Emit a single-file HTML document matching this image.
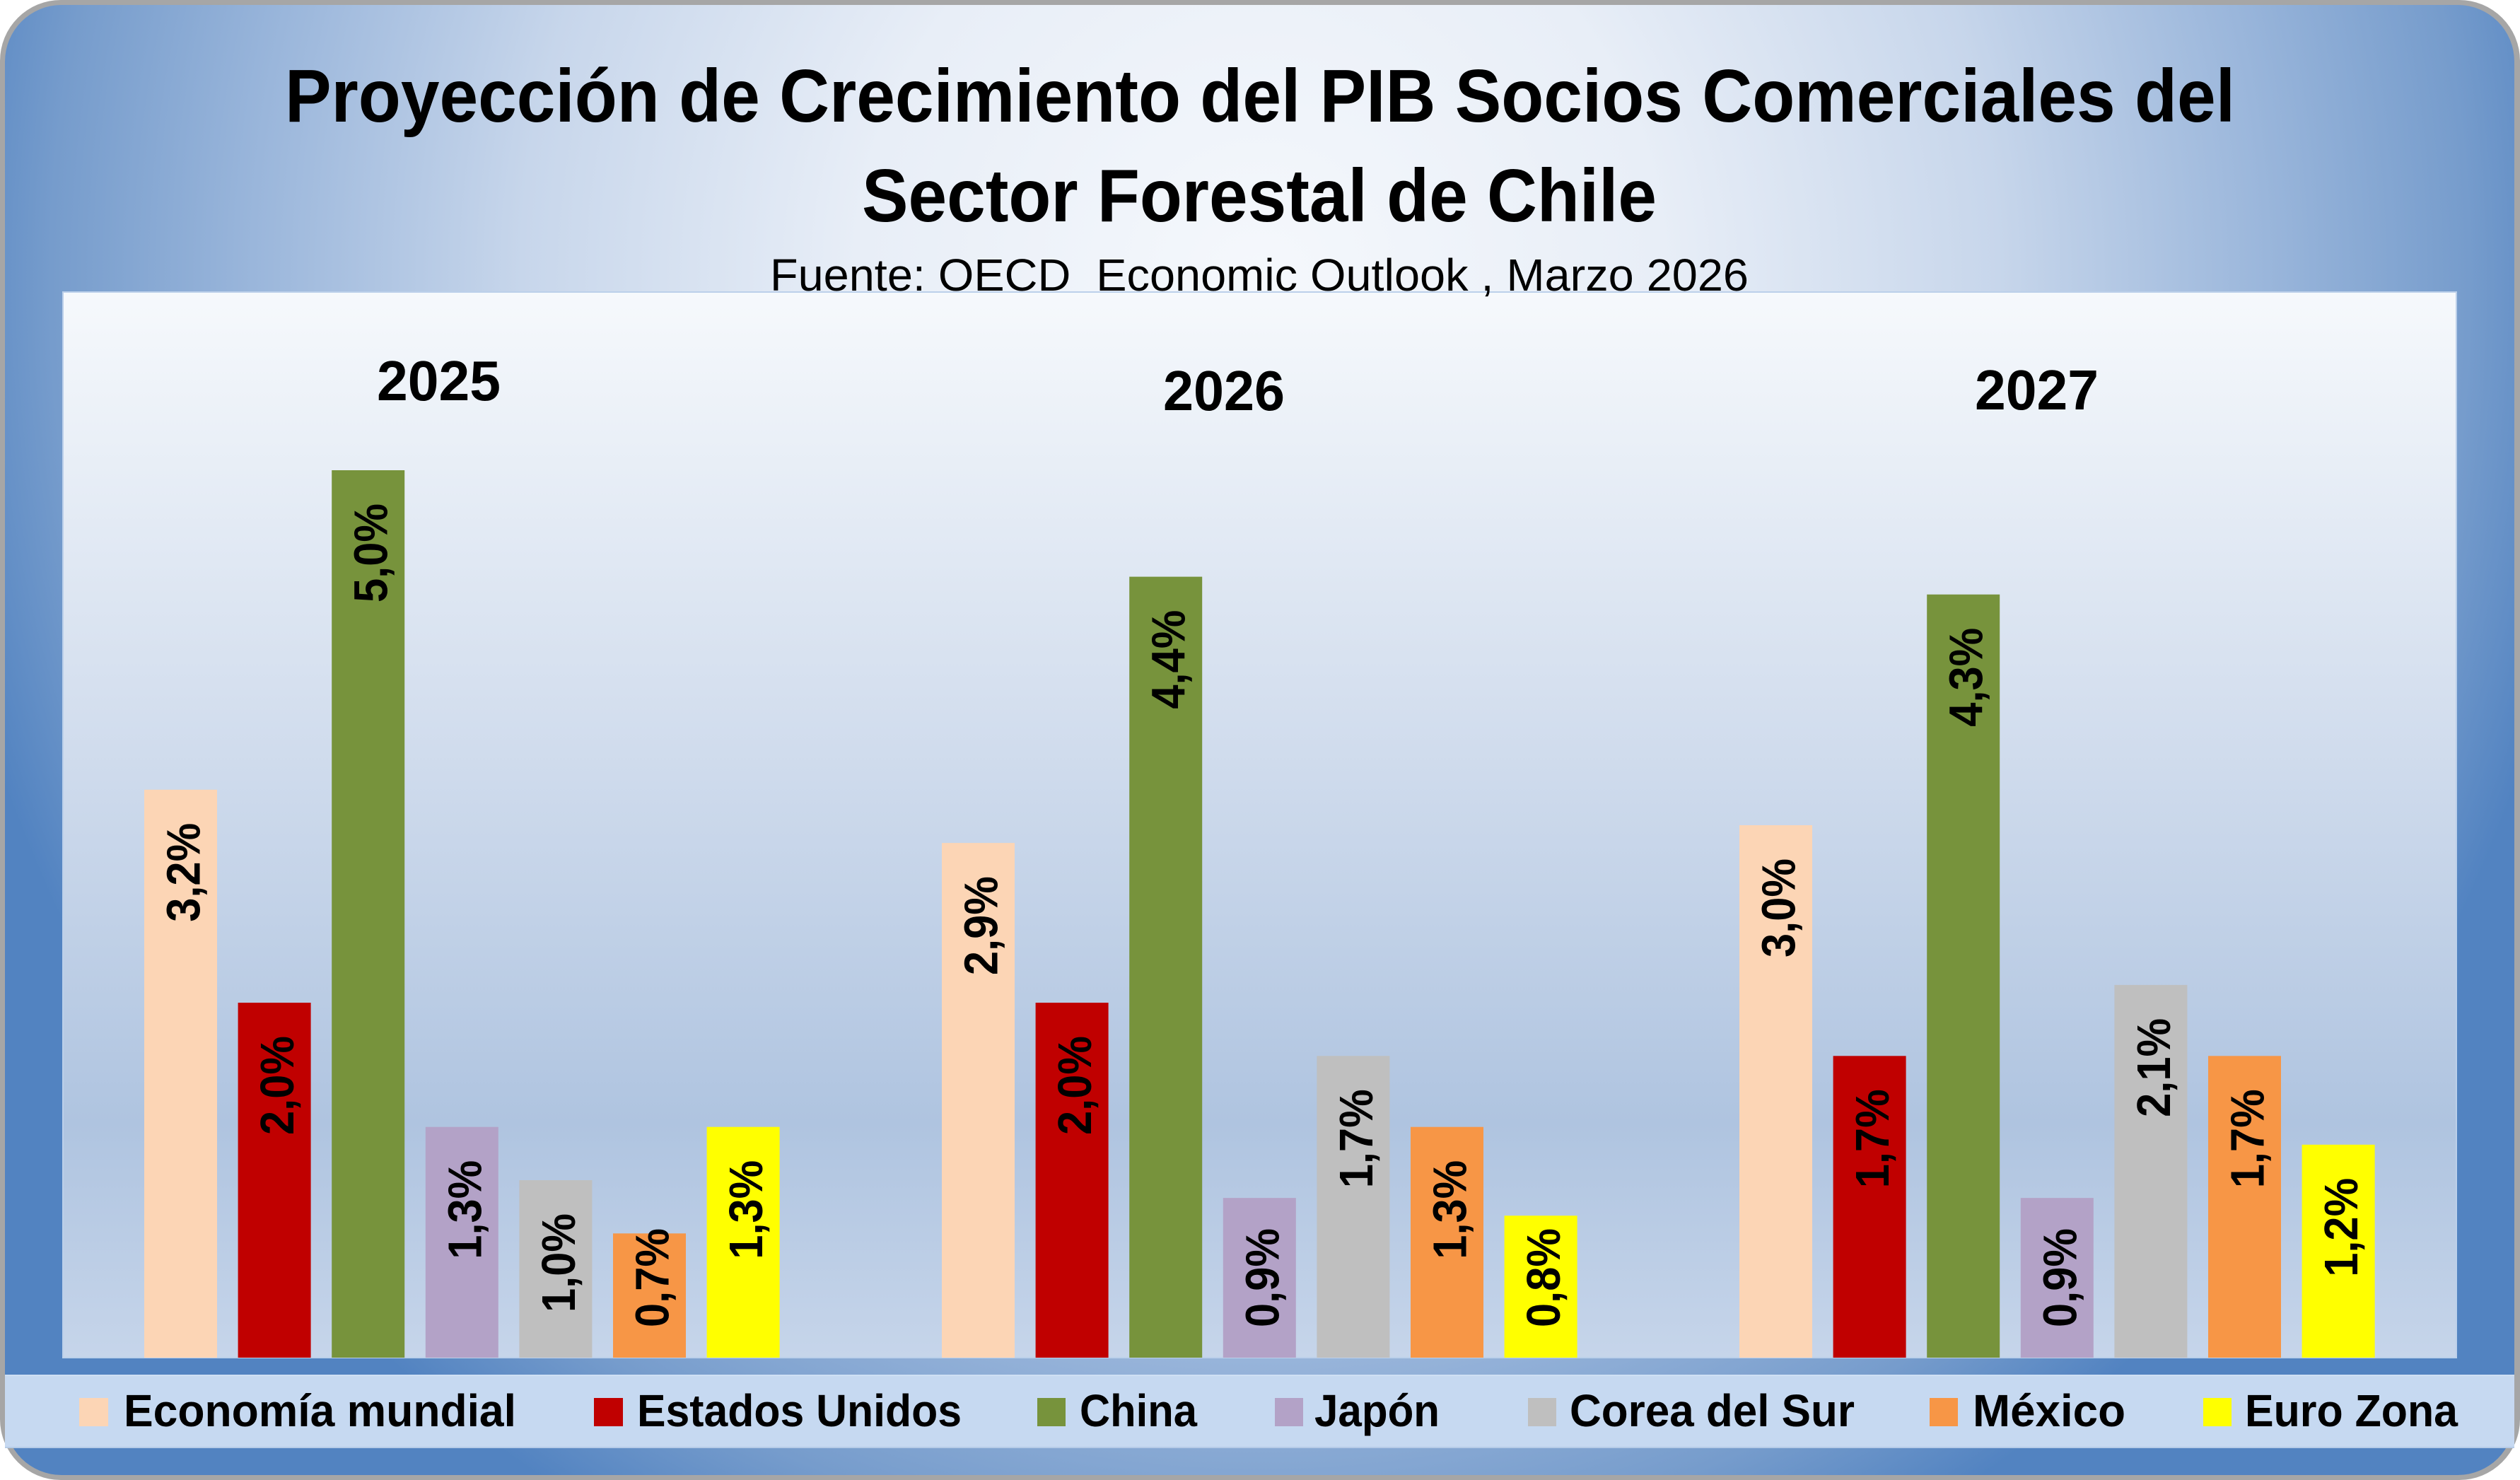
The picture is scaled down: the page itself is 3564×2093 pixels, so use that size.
<!DOCTYPE html>
<html>
<head>
<meta charset="utf-8">
<style>
html,body{margin:0;padding:0;background:#ffffff;}
svg{display:block;}
</style>
</head>
<body>
<svg width="3564" height="2093" viewBox="0 0 3564 2093" xmlns="http://www.w3.org/2000/svg" font-family="'Liberation Sans', Arial, sans-serif">
<defs>
  <radialGradient id="fr" gradientUnits="userSpaceOnUse" cx="0" cy="0" r="1" gradientTransform="translate(1782,400) scale(1900,2000)">
    <stop offset="0" stop-color="#f5f8fc"/>
    <stop offset="0.3" stop-color="#e8eef7"/>
    <stop offset="0.55" stop-color="#c7d6eb"/>
    <stop offset="0.75" stop-color="#9ab6db"/>
    <stop offset="0.9" stop-color="#769ccc"/>
    <stop offset="1" stop-color="#5283c1"/>
  </radialGradient>
  <linearGradient id="pl" x1="0" y1="0" x2="0" y2="1">
    <stop offset="0" stop-color="#f6f9fc"/>
    <stop offset="0.4" stop-color="#d3deee"/>
    <stop offset="0.78" stop-color="#afc4e0"/>
    <stop offset="1" stop-color="#c6d5ea"/>
  </linearGradient>
</defs>

<!-- frame -->
<rect x="0" y="0" width="3564" height="2093" rx="86" ry="86" fill="#a6a6a6"/>
<rect x="7" y="7" width="3549" height="2079" rx="80" ry="80" fill="url(#fr)"/>

<!-- titles -->
<text x="403" y="172" font-size="106" font-weight="bold" fill="#000" textLength="2758" lengthAdjust="spacingAndGlyphs">Proyección de Crecimiento del PIB Socios Comerciales del</text>
<text x="1219" y="313" font-size="106" font-weight="bold" fill="#000" textLength="1124" lengthAdjust="spacingAndGlyphs">Sector Forestal de Chile</text>

<!-- plot area -->
<rect x="89" y="413" width="3385" height="1507" fill="url(#pl)" stroke="#bcd0ea" stroke-width="2"/>

<text x="1089" y="411" font-size="64" fill="#000" textLength="1384" lengthAdjust="spacingAndGlyphs">Fuente: OECD &#160;Economic Outlook , Marzo 2026</text>

<!-- year labels -->
<text x="533" y="566" font-size="80" font-weight="bold" fill="#000" textLength="175" lengthAdjust="spacingAndGlyphs">2025</text>
<text x="1645" y="580" font-size="80" font-weight="bold" fill="#000" textLength="172" lengthAdjust="spacingAndGlyphs">2026</text>
<text x="2793" y="579" font-size="80" font-weight="bold" fill="#000" textLength="175" lengthAdjust="spacingAndGlyphs">2027</text>

<!-- bars 2025 -->
<rect x="204" y="1116.8" width="103" height="803.2" fill="#fcd5b5"/>
<rect x="336.6" y="1418" width="103" height="502" fill="#c00000"/>
<rect x="469.2" y="665" width="103" height="1255" fill="#77933c"/>
<rect x="601.8" y="1593.7" width="103" height="326.3" fill="#b3a2c7"/>
<rect x="734.4" y="1669" width="103" height="251" fill="#bfbfbf"/>
<rect x="867" y="1744.3" width="103" height="175.7" fill="#f79646"/>
<rect x="999.6" y="1593.7" width="103" height="326.3" fill="#ffff00"/>

<!-- bars 2026 -->
<rect x="1332" y="1192.1" width="103" height="727.9" fill="#fcd5b5"/>
<rect x="1464.6" y="1418" width="103" height="502" fill="#c00000"/>
<rect x="1597.2" y="815.6" width="103" height="1104.4" fill="#77933c"/>
<rect x="1729.8" y="1694.1" width="103" height="225.9" fill="#b3a2c7"/>
<rect x="1862.4" y="1493.3" width="103" height="426.7" fill="#bfbfbf"/>
<rect x="1995" y="1593.7" width="103" height="326.3" fill="#f79646"/>
<rect x="2127.6" y="1719.2" width="103" height="200.8" fill="#ffff00"/>

<!-- bars 2027 -->
<rect x="2460" y="1167" width="103" height="753" fill="#fcd5b5"/>
<rect x="2592.6" y="1493.3" width="103" height="426.7" fill="#c00000"/>
<rect x="2725.2" y="840.7" width="103" height="1079.3" fill="#77933c"/>
<rect x="2857.8" y="1694.1" width="103" height="225.9" fill="#b3a2c7"/>
<rect x="2990.4" y="1392.9" width="103" height="527.1" fill="#bfbfbf"/>
<rect x="3123" y="1493.3" width="103" height="426.7" fill="#f79646"/>
<rect x="3255.6" y="1618.8" width="103" height="301.2" fill="#ffff00"/>

<!-- data labels -->
<g font-size="67" font-weight="bold" fill="#000">
<text transform="translate(282.5,1303.8) rotate(-90)" textLength="140" lengthAdjust="spacingAndGlyphs">3,2%</text>
<text transform="translate(415.1,1605) rotate(-90)" textLength="140" lengthAdjust="spacingAndGlyphs">2,0%</text>
<text transform="translate(547.7,852) rotate(-90)" textLength="140" lengthAdjust="spacingAndGlyphs">5,0%</text>
<text transform="translate(680.3,1780.7) rotate(-90)" textLength="140" lengthAdjust="spacingAndGlyphs">1,3%</text>
<text transform="translate(812.9,1856) rotate(-90)" textLength="140" lengthAdjust="spacingAndGlyphs">1,0%</text>
<text transform="translate(945.5,1877) rotate(-90)" textLength="140" lengthAdjust="spacingAndGlyphs">0,7%</text>
<text transform="translate(1078.1,1780.7) rotate(-90)" textLength="140" lengthAdjust="spacingAndGlyphs">1,3%</text>

<text transform="translate(1410.5,1379.1) rotate(-90)" textLength="140" lengthAdjust="spacingAndGlyphs">2,9%</text>
<text transform="translate(1543.1,1605) rotate(-90)" textLength="140" lengthAdjust="spacingAndGlyphs">2,0%</text>
<text transform="translate(1675.7,1002.6) rotate(-90)" textLength="140" lengthAdjust="spacingAndGlyphs">4,4%</text>
<text transform="translate(1808.3,1877) rotate(-90)" textLength="140" lengthAdjust="spacingAndGlyphs">0,9%</text>
<text transform="translate(1940.9,1680.3) rotate(-90)" textLength="140" lengthAdjust="spacingAndGlyphs">1,7%</text>
<text transform="translate(2073.5,1780.7) rotate(-90)" textLength="140" lengthAdjust="spacingAndGlyphs">1,3%</text>
<text transform="translate(2206.1,1877) rotate(-90)" textLength="140" lengthAdjust="spacingAndGlyphs">0,8%</text>

<text transform="translate(2538.5,1354) rotate(-90)" textLength="140" lengthAdjust="spacingAndGlyphs">3,0%</text>
<text transform="translate(2671.1,1680.3) rotate(-90)" textLength="140" lengthAdjust="spacingAndGlyphs">1,7%</text>
<text transform="translate(2803.7,1027.7) rotate(-90)" textLength="140" lengthAdjust="spacingAndGlyphs">4,3%</text>
<text transform="translate(2936.3,1877) rotate(-90)" textLength="140" lengthAdjust="spacingAndGlyphs">0,9%</text>
<text transform="translate(3068.9,1579.9) rotate(-90)" textLength="140" lengthAdjust="spacingAndGlyphs">2,1%</text>
<text transform="translate(3201.5,1680.3) rotate(-90)" textLength="140" lengthAdjust="spacingAndGlyphs">1,7%</text>
<text transform="translate(3334.1,1805.8) rotate(-90)" textLength="140" lengthAdjust="spacingAndGlyphs">1,2%</text>
</g>

<!-- legend band -->
<rect x="7" y="1945" width="3549" height="102" fill="#c6d9f1"/>
<line x1="7" y1="1945" x2="3556" y2="1945" stroke="#cfe0f4" stroke-width="2"/>
<line x1="7" y1="2047" x2="3556" y2="2047" stroke="#b6cbe7" stroke-width="2"/>

<!-- legend items -->
<rect x="112" y="1977" width="41" height="40" fill="#fcd5b5"/>
<rect x="840" y="1977" width="41" height="40" fill="#c00000"/>
<rect x="1467" y="1977" width="40" height="40" fill="#77933c"/>
<rect x="1803" y="1977" width="40" height="40" fill="#b3a2c7"/>
<rect x="2161" y="1977" width="40" height="40" fill="#bfbfbf"/>
<rect x="2729" y="1977" width="40" height="40" fill="#f79646"/>
<rect x="3116" y="1977" width="40" height="40" fill="#ffff00"/>
<g font-size="64" font-weight="bold" fill="#000">
<text x="175" y="2017" textLength="555" lengthAdjust="spacingAndGlyphs">Economía mundial</text>
<text x="901" y="2017" textLength="459" lengthAdjust="spacingAndGlyphs">Estados Unidos</text>
<text x="1527" y="2017" textLength="166" lengthAdjust="spacingAndGlyphs">China</text>
<text x="1859" y="2017" textLength="177" lengthAdjust="spacingAndGlyphs">Japón</text>
<text x="2220" y="2017" textLength="403" lengthAdjust="spacingAndGlyphs">Corea del Sur</text>
<text x="2790" y="2017" textLength="216" lengthAdjust="spacingAndGlyphs">México</text>
<text x="3175" y="2017" textLength="301" lengthAdjust="spacingAndGlyphs">Euro Zona</text>
</g>
</svg>
</body>
</html>
